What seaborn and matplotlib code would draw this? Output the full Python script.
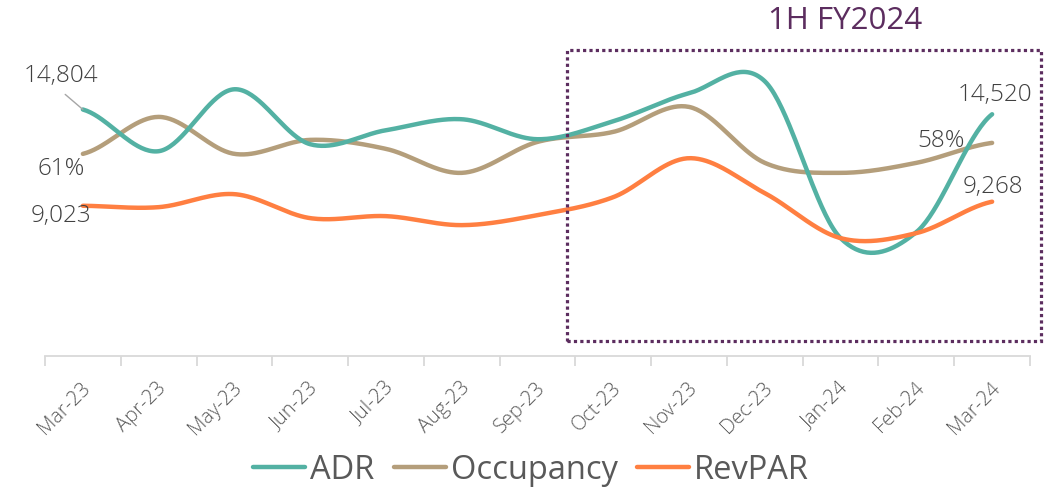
import numpy as np
import pandas as pd
import matplotlib
matplotlib.use("Agg")
import matplotlib.pyplot as plt
import matplotlib.transforms as mtransforms
from matplotlib.lines import Line2D
from matplotlib.patches import Rectangle
import seaborn as sns

# ── data ──────────────────────────────────────────────────────────────────────
MONTHS = ["Mar-23", "Apr-23", "May-23", "Jun-23", "Jul-23", "Aug-23", "Sep-23",
          "Oct-23", "Nov-23", "Dec-23", "Jan-24", "Feb-24", "Mar-24"]
ADR = [14804, 12300, 16020, 12720, 13560, 14220, 13020,
       14100, 15780, 16500, 7080, 7440, 14520]
OCCUPANCY = [60.7, 71.8, 60.7, 64.9, 62.2, 55.0, 64.3,
             67.3, 74.8, 58.0, 55.0, 58.0, 64.0]
REVPAR = [9023, 8940, 9720, 8280, 8400, 7860, 8460,
          9540, 11880, 9780, 7080, 7380, 9268]
OCC_END_LABELS = ["61%", "58%"]
PERIOD_LABEL = "1H FY2024"

# ── theme ─────────────────────────────────────────────────────────────────────
COLORS = {"ADR": "#53B1A3", "Occupancy": "#B49E7B", "RevPAR": "#FF7F41"}
LABEL_COLOR = "#404040"
AXIS_COLOR = "#D9D9D9"
PURPLE = "#5C2D5F"

sns.set_theme(style="white")
plt.rcParams["font.family"] = ["Open Sans", "DejaVu Sans"]


def smooth(values, n=40):
    """Catmull-Rom curve through the points (like a 'smoothed line')."""
    p = np.asarray(values, dtype=float)
    m = np.empty_like(p)
    m[1:-1] = (p[2:] - p[:-2]) / 2
    m[0] = (p[1] - p[0]) / 2
    m[-1] = (p[-1] - p[-2]) / 2
    t = np.linspace(0, 1, n, endpoint=False)
    h00 = 2 * t**3 - 3 * t**2 + 1
    h10 = t**3 - 2 * t**2 + t
    h01 = -2 * t**3 + 3 * t**2
    h11 = t**3 - t**2
    xs, ys = [], []
    for i in range(len(p) - 1):
        xs.append(i + t)
        ys.append(h00 * p[i] + h10 * m[i] + h01 * p[i + 1] + h11 * m[i + 1])
    xs.append([len(p) - 1])
    ys.append([p[-1]])
    return np.concatenate(xs), np.concatenate(ys)


def curve_frame(name, values):
    x, y = smooth(values)
    return pd.DataFrame({"x": x, "value": y, "series": name})


money = pd.concat([curve_frame("ADR", ADR), curve_frame("RevPAR", REVPAR)])
occ = curve_frame("Occupancy", OCCUPANCY)

fig = plt.figure(figsize=(10.51, 4.90), dpi=100)
ax = fig.add_axes([45 / 1051, 134 / 490, 985 / 1051, 333 / 490])
ax2 = ax.twinx()

sns.lineplot(data=occ, x="x", y="value", color=COLORS["Occupancy"], lw=3.2,
             estimator=None, legend=False, ax=ax2)
sns.lineplot(data=money, x="x", y="value", hue="series", palette=COLORS, lw=3.2,
             estimator=None, legend=False, ax=ax)
for line in ax.lines + ax2.lines:
    line.set_solid_capstyle("round")

ax.set_xlim(-0.5, len(MONTHS) - 0.5)
ax.set_ylim(0, 20000)
ax2.set_ylim(0, 100)
ax.set_zorder(ax2.get_zorder() + 1)
ax.patch.set_visible(False)

for a in (ax, ax2):
    for side in ("left", "right", "top"):
        a.spines[side].set_visible(False)
    a.set_yticks([])
    a.set_ylabel("")
    a.set_xlabel("")
ax2.spines["bottom"].set_visible(False)
ax.spines["bottom"].set_color(AXIS_COLOR)
ax.spines["bottom"].set_linewidth(1.3)

ax.set_xticks(range(len(MONTHS)))
ax.set_xticklabels(MONTHS, rotation=45, ha="right", va="center",
                   rotation_mode="anchor", fontsize=14.5, color="#595959",
                   fontweight="light")
ax.set_xticks(np.arange(-0.5, len(MONTHS)), minor=True)
ax.tick_params(axis="x", which="major", length=0, pad=21)
ax.tick_params(axis="x", which="minor", length=7, width=1.3, color=AXIS_COLOR,
               direction="out", bottom=True)
shift = mtransforms.ScaledTranslation(3.5 / 72, 0, fig.dpi_scale_trans)
for lbl in ax.get_xticklabels():
    lbl.set_transform(lbl.get_transform() + shift)

# ── data labels ───────────────────────────────────────────────────────────────
lab = dict(textcoords="offset pixels", fontsize=17.5, color=LABEL_COLOR,
           va="center", fontweight="light")
last = len(MONTHS) - 1
ax.annotate(f"{ADR[0]:,}", (0, ADR[0]), xytext=(-22, 34), ha="center",
            arrowprops=dict(arrowstyle="-", color="#A6A6A6", lw=1,
                            relpos=(0.45, 0), shrinkA=4, shrinkB=0), **lab)
ax2.annotate(OCC_END_LABELS[0], (0, OCCUPANCY[0]), xytext=(2, -15), ha="right", **lab)
ax.annotate(f"{REVPAR[0]:,}", (0, REVPAR[0]), xytext=(8, -10), ha="right", **lab)
ax.annotate(f"{ADR[-1]:,}", (last, ADR[-1]), xytext=(3, 19), ha="center", **lab)
ax2.annotate(OCC_END_LABELS[1], (last, OCCUPANCY[-1]), xytext=(-27, 2), ha="right", **lab)
ax.annotate(f"{REVPAR[-1]:,}", (last, REVPAR[-1]), xytext=(1, 15), ha="center", **lab)

# ── highlighted period ────────────────────────────────────────────────────────
box = Rectangle((6.39, 900), 6.26, 17460, fill=False, edgecolor=PURPLE,
                lw=2.3, linestyle=(0, (1, 1)), clip_on=False, zorder=5)
ax.add_patch(box)
fig.text(845 / 1051, 1 - 21 / 490, PERIOD_LABEL, ha="center", va="center",
         fontsize=22.5, color=PURPLE)

# ── legend ────────────────────────────────────────────────────────────────────
handles = [Line2D([], [], color=COLORS[k], lw=3.2) for k in ("ADR", "Occupancy", "RevPAR")]
fig.legend(handles, ["ADR", "Occupancy", "RevPAR"], loc="center", ncol=3,
           bbox_to_anchor=(531 / 1051, 20 / 490), frameon=False, fontsize=23.5,
           labelcolor="#595959", handlelength=1.6, handletextpad=0.15,
           columnspacing=0.58, borderpad=0)

fig.savefig("out.png", dpi=100)
